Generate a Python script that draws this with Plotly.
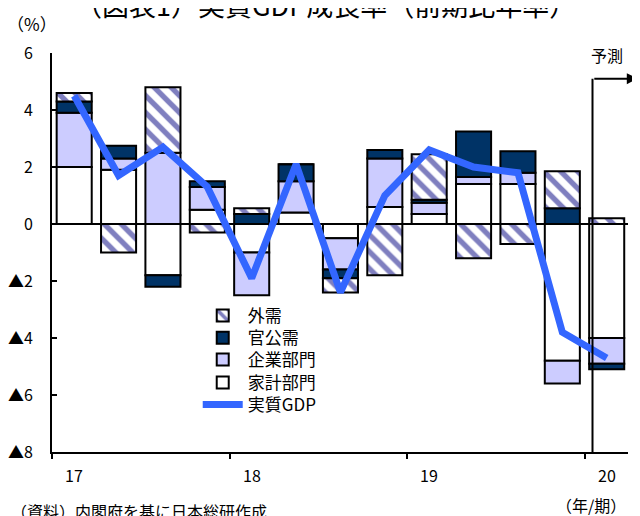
import plotly.graph_objects as go

quarters = ["17/1", "17/2", "17/3", "17/4", "18/1", "18/2", "18/3", "18/4",
            "19/1", "19/2", "19/3", "19/4", "20/1"]
household = [2.0, 1.9, -1.8, 0.5, -1.0, 0.4, -0.5, 0.6, 0.35, 1.4, 1.4, -4.8, -4.0]
corporate = [1.9, 0.4, 2.5, 0.8, -1.5, 1.1, -1.1, 1.7, 0.4, 0.25, 0.4, -0.8, -0.9]
public = [0.4, 0.45, -0.4, 0.2, 0.35, 0.6, -0.3, 0.3, 0.1, 1.6, 0.75, 0.55, -0.2]
external = [0.3, -1.0, 2.3, -0.3, 0.2, 0.0, -0.5, -1.8, 1.6, -1.2, -0.7, 1.3, 0.2]
gdp = [4.5, 1.7, 2.7, 1.3, -1.9, 2.1, -2.4, 1.0, 2.6, 2.0, 1.8, -3.8, -4.7]

year_ticks = [-0.5, 3.5, 7.5, 11.5]
year_label_pos = [0, 4, 8, 12]
year_labels = ["17", "18", "19", "20"]
y_ticks = [6, 4, 2, 0, -2, -4, -6, -8]
y_labels = ["6", "4", "2", "0", "▲2", "▲4", "▲6", "▲8"]
forecast_x = 11.68

xpos = list(range(len(quarters)))
FONT = "Noto Sans CJK JP"
edge = dict(color="black", width=2)

fig = go.Figure()
fig.add_trace(go.Bar(x=xpos, y=household, name="家計部門", legend="legend4",
                     marker=dict(color="white", line=edge)))
fig.add_trace(go.Bar(x=xpos, y=corporate, name="企業部門", legend="legend3",
                     marker=dict(color="#CCCCFF", line=edge)))
fig.add_trace(go.Bar(x=xpos, y=public, name="官公需", legend="legend2",
                     marker=dict(color="#003366", line=edge)))
fig.add_trace(go.Bar(x=xpos, y=external, name="外需", legend="legend",
                     marker=dict(color="white", line=edge,
                                 pattern=dict(shape="\\", fgcolor="#000080", bgcolor="white",
                                              size=12, solidity=0.45))))
fig.add_trace(go.Scatter(x=xpos, y=gdp, name="実質GDP", legend="legend5", mode="lines",
                         line=dict(color="#3366FF", width=7)))

# legend item centres (paper y) for the five stacked entries
legend_rows = [0.341, 0.285, 0.231, 0.173, 0.118]

def leg(yv):
    return dict(x=0.253, y=yv, xanchor="left", yanchor="middle",
                font=dict(size=17, family=FONT), bgcolor="rgba(0,0,0,0)", itemwidth=40)

fig.update_layout(
    width=640, height=516,
    margin=dict(l=44, r=20, t=45, b=72, autoexpand=False),
    paper_bgcolor="white", plot_bgcolor="white",
    barmode="relative", bargap=0.21,
    font=dict(family=FONT, size=16, color="black"),
    showlegend=True,
    legend=leg(legend_rows[0]), legend2=leg(legend_rows[1]), legend3=leg(legend_rows[2]),
    legend4=leg(legend_rows[3]), legend5=leg(legend_rows[4]),
    xaxis=dict(range=[-0.5, 12.48], tickvals=year_ticks, ticktext=["", "", "", ""],
               ticks="outside", ticklen=5, tickwidth=2, tickcolor="black",
               showline=True, linewidth=2, linecolor="black",
               showgrid=False, zeroline=False, automargin=False),
    yaxis=dict(range=[-8, 6], tickvals=y_ticks, ticktext=y_labels,
               ticks="inside", ticklen=5, tickwidth=2, tickcolor="black",
               showline=True, linewidth=2, linecolor="black",
               showgrid=False, zeroline=True, zerolinecolor="black", zerolinewidth=2,
               tickfont=dict(size=16, family=FONT), ticklabelstandoff=14, automargin=False),
)

for pos, lab in zip(year_label_pos, year_labels):
    fig.add_annotation(xref="x", yref="paper", x=pos, y=-0.058, xanchor="center", yanchor="middle",
                       text=lab, showarrow=False, font=dict(size=16, family=FONT))

fig.add_shape(type="line", xref="x", yref="y", x0=forecast_x, x1=forecast_x, y0=-8, y1=5.1,
              line=dict(color="black", width=2))
fig.add_annotation(xref="paper", yref="y", x=1.017, y=5.1, ax=-45, ay=0, text="",
                   showarrow=True, arrowhead=2, arrowsize=1.1, arrowwidth=2, arrowcolor="black")

fig.add_annotation(xref="paper", yref="paper", x=0.474, y=1.122, xanchor="center", yanchor="middle",
                   text="（図表1）実質GDP成長率（前期比年率）", showarrow=False,
                   font=dict(size=27, family=FONT))
fig.add_annotation(xref="paper", yref="paper", x=-0.035, y=1.075, xanchor="center", yanchor="middle",
                   text="（%）", showarrow=False, font=dict(size=17, family=FONT))
fig.add_annotation(xref="paper", yref="paper", x=0.9635, y=0.995, xanchor="center", yanchor="middle",
                   text="予測", showarrow=False, font=dict(size=16, family=FONT))
fig.add_annotation(xref="paper", yref="paper", x=-0.075, y=-0.148, xanchor="left", yanchor="middle",
                   text="（資料）内閣府を基に日本総研作成", showarrow=False, font=dict(size=16, family=FONT))
fig.add_annotation(xref="paper", yref="paper", x=1.0, y=-0.133, xanchor="right", yanchor="middle",
                   text="（年/期）", showarrow=False, font=dict(size=16, family=FONT))

fig.write_html("out.html")
